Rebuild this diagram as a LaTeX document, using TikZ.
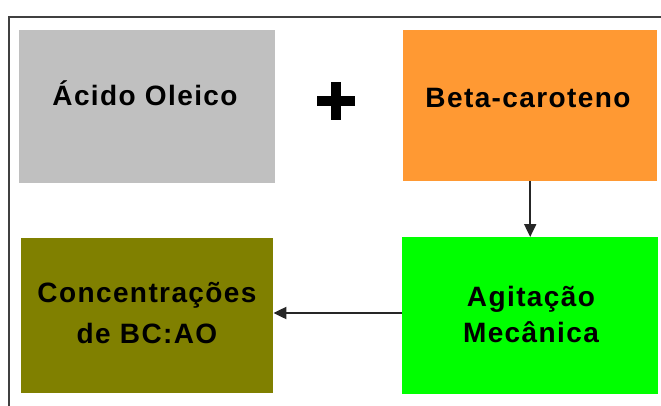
\documentclass[tikz,border=0pt]{standalone}
\usepackage{fontspec}
\setmainfont{Liberation Sans}[LetterSpace=5]
\usetikzlibrary{arrows.meta}
\definecolor{cgray}{HTML}{C0C0C0}
\definecolor{corange}{HTML}{FF9933}
\definecolor{cgreen}{HTML}{00FF00}
\definecolor{colive}{HTML}{808000}
\definecolor{cframe}{HTML}{404040}
\begin{document}
\begin{tikzpicture}[x=1pt,y=-1pt,
  box/.style={rectangle, anchor=north west, inner sep=0pt, draw=none},
  txt/.style={anchor=base, inner sep=0pt, align=center, font=\bfseries\fontsize{28pt}{#1}\selectfont},
  txt/.default={36pt},
  arr/.style={line width=2pt, black!85, -{Triangle[length=13pt,width=12pt]}}]
\useasboundingbox (0,0) rectangle (661,405);
\clip (0,0) rectangle (661,405);
\fill[white] (0,0) rectangle (661,405);
% frame
\draw[line width=2pt, cframe] (9,430) -- (9,17) -- (690,17);
% boxes
\node[box, fill=cgray, minimum width=256pt, minimum height=153pt] (acido) at (19,30) {};
\node[box, fill=corange, minimum width=254pt, minimum height=151pt] (beta) at (403,30) {};
\node[box, fill=cgreen, minimum width=256pt, minimum height=157pt] (agit) at (402,237) {};
\node[box, fill=colive, minimum width=252pt, minimum height=155pt] (conc) at (21,238) {};
% texts
\node[txt] (tacido) at (145,105.5) {Ácido Oleico};
\node[txt] (tbeta) at (528,107) {Beta-caroteno};
\node[txt=41pt] (tconc) at (147,343) {Concentrações\\de BC:AO};
\node[txt=36pt] (tagit) at (531,342) {Agitação\\Mecânica};
% plus sign
\fill[black] (331,82) rectangle (341,120);
\fill[black] (317,96) rectangle (355,106);
% connectors
\draw[arr] (beta.south) -- (agit.north);
\draw[arr] (agit.west |- 0,313) -- (conc.east |- 0,313);
\end{tikzpicture}
\end{document}
